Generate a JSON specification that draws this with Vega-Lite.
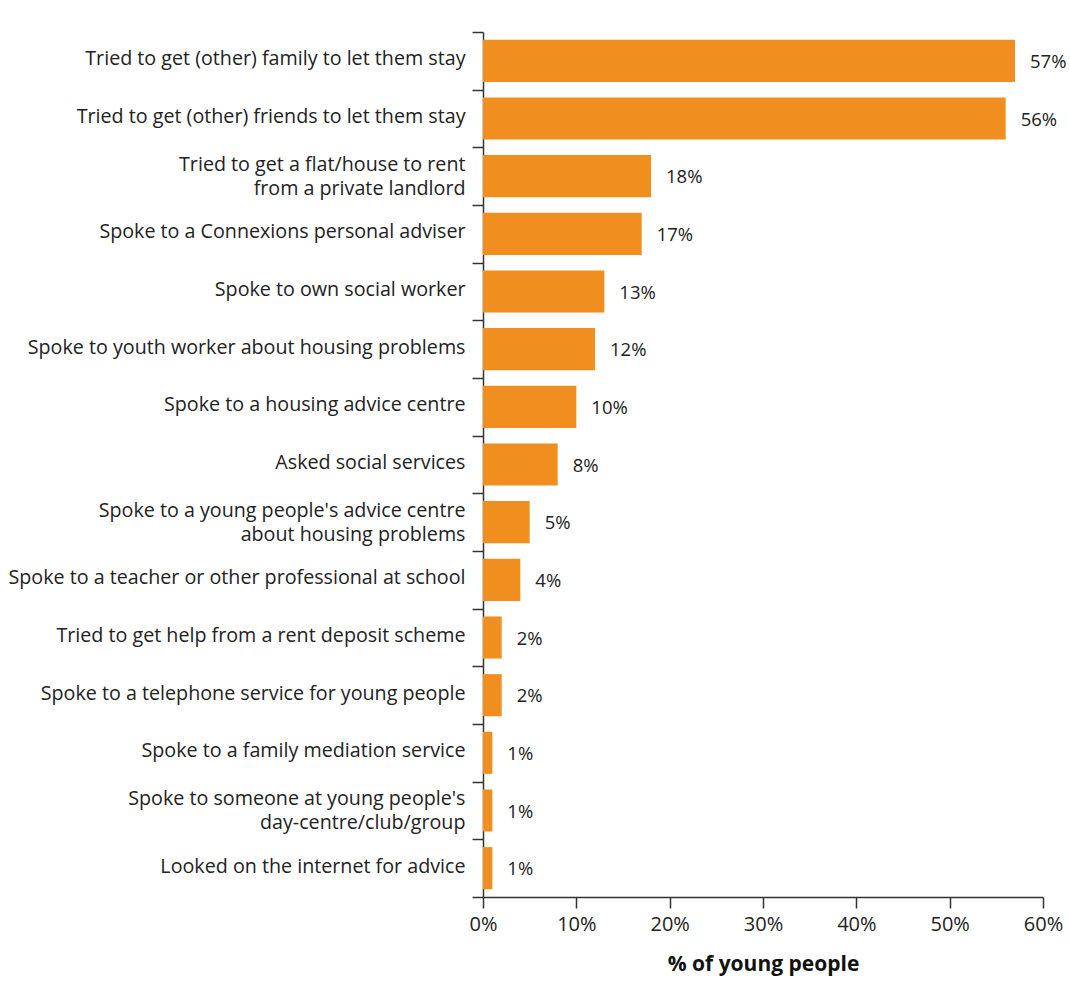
{
  "$schema": "https://vega.github.io/schema/vega-lite/v6.json",
  "width": 560,
  "height": 865,
  "autosize": "none",
  "padding": {"left": 483, "top": 32, "right": 27, "bottom": 92},
  "background": "white",
  "config": {"view": {"stroke": null}, "font": "Open Sans"},
  "data": {
    "values": [
      {"label": "Tried to get (other) family to let them stay", "pct": 57, "display": "57%"},
      {"label": "Tried to get (other) friends to let them stay", "pct": 56, "display": "56%"},
      {"label": "Tried to get a flat/house to rent|from a private landlord", "pct": 18, "display": "18%"},
      {"label": "Spoke to a Connexions personal adviser", "pct": 17, "display": "17%"},
      {"label": "Spoke to own social worker", "pct": 13, "display": "13%"},
      {"label": "Spoke to youth worker about housing problems", "pct": 12, "display": "12%"},
      {"label": "Spoke to a housing advice centre", "pct": 10, "display": "10%"},
      {"label": "Asked social services", "pct": 8, "display": "8%"},
      {"label": "Spoke to a young people's advice centre|about housing problems", "pct": 5, "display": "5%"},
      {"label": "Spoke to a teacher or other professional at school", "pct": 4, "display": "4%"},
      {"label": "Tried to get help from a rent deposit scheme", "pct": 2, "display": "2%"},
      {"label": "Spoke to a telephone service for young people", "pct": 2, "display": "2%"},
      {"label": "Spoke to a family mediation service", "pct": 1, "display": "1%"},
      {"label": "Spoke to someone at young people's|day-centre/club/group", "pct": 1, "display": "1%"},
      {"label": "Looked on the internet for advice", "pct": 1, "display": "1%"}
    ]
  },
  "encoding": {
    "y": {
      "field": "label",
      "type": "nominal",
      "sort": null,
      "scale": {"paddingInner": 0, "paddingOuter": 0},
      "axis": {
        "title": null,
        "domainColor": "#333333",
        "domainWidth": 1.5,
        "tickColor": "#333333",
        "tickWidth": 1.5,
        "tickSize": 11,
        "tickBand": "extent",
        "labelPadding": 7,
        "labelFontSize": 19.7,
        "labelColor": "#222222",
        "labelLimit": 0,
        "labelLineHeight": 24,
        "labelOffset": {"condition": {"test": "indexof(datum.label, '|') >= 0", "value": -12}, "value": -2},
        "labelExpr": "split(datum.label, '|')"
      }
    }
  },
  "layer": [
    {
      "mark": {"type": "bar", "color": "#F08E20", "height": {"band": 0.73}},
      "encoding": {
        "x": {
          "field": "pct",
          "type": "quantitative",
          "scale": {"domain": [0, 60], "nice": false},
          "axis": {
            "title": "% of young people",
            "titleFontSize": 21,
            "titleFontWeight": "bold",
            "titleColor": "#111111",
            "titlePadding": 19,
            "values": [0, 10, 20, 30, 40, 50, 60],
            "labelExpr": "datum.value + '%'",
            "labelFontSize": 20,
            "labelColor": "#222222",
            "labelPadding": 6,
            "labelFlush": false,
            "tickSize": 11,
            "tickColor": "#333333",
            "tickWidth": 1.5,
            "domainColor": "#333333",
            "domainWidth": 1.5,
            "grid": false
          }
        }
      }
    },
    {
      "mark": {"type": "text", "align": "left", "baseline": "middle", "dx": 15, "dy": 1, "fontSize": 18.5, "color": "#222222"},
      "encoding": {
        "x": {"field": "pct", "type": "quantitative"},
        "text": {"field": "display", "type": "nominal"}
      }
    }
  ]
}
